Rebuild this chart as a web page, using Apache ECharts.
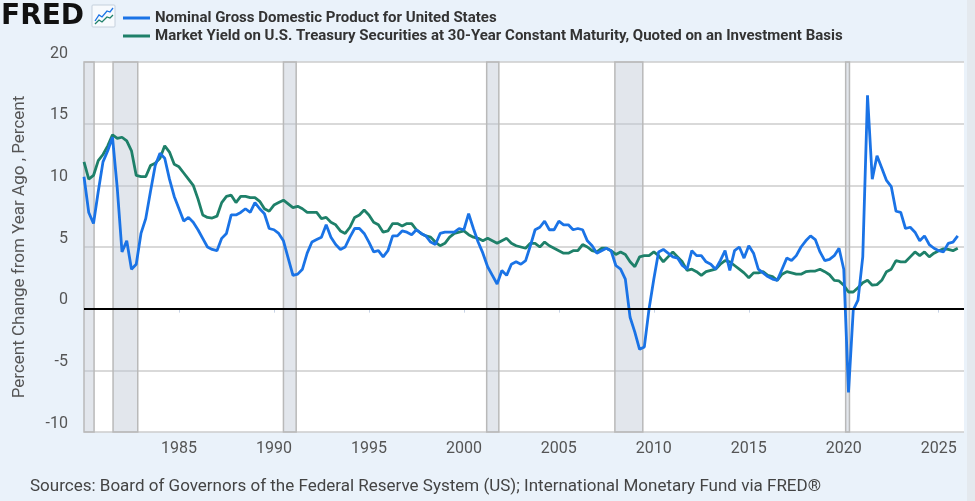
<!DOCTYPE html>
<html>
<head>
<meta charset="utf-8">
<script src="https://cdn.jsdelivr.net/npm/echarts@6/dist/echarts.min.js"></script>
<style>
html,body{margin:0;padding:0;background:#eaf2fa;}
#chart{width:975px;height:501px;}
</style>
</head>
<body>
<div id="chart"></div>
<script>
// Quarterly observations, first quarter = 1980 Q1
var startYear = 1980;
var gdpName = 'Nominal Gross Domestic Product for United States';
var yieldName = 'Market Yield on U.S. Treasury Securities at 30-Year Constant Maturity, Quoted on an Investment Basis';

var gdpYoY = [
 10.7, 7.8, 6.9, 9.5,   // 1980
 11.9, 12.8, 13.9, 9.8, // 1981
 4.6, 5.5, 3.2, 3.6,    // 1982
 6.1, 7.3, 9.5, 11.6,   // 1983
 12.6, 12.2, 10.5, 9.1, // 1984
 8.1, 7.1, 7.4, 7.0,    // 1985
 6.4, 5.7, 5.0, 4.8,    // 1986
 4.7, 5.7, 6.1, 7.6,    // 1987
 7.6, 7.8, 8.1, 7.8,    // 1988
 8.6, 8.1, 7.7, 6.5,    // 1989
 6.4, 6.1, 5.5, 4.1,    // 1990
 2.7, 2.8, 3.2, 4.5,    // 1991
 5.4, 5.6, 5.8, 6.8,    // 1992
 5.8, 5.2, 4.8, 5.0,    // 1993
 5.8, 6.5, 6.5, 6.1,    // 1994
 5.4, 4.6, 4.7, 4.2,    // 1995
 4.7, 5.9, 5.9, 6.3,    // 1996
 6.2, 6.0, 6.4, 6.1,    // 1997
 5.9, 5.4, 5.2, 6.1,    // 1998
 6.2, 6.2, 6.2, 6.5,    // 1999
 6.4, 7.7, 6.5, 5.4,    // 2000
 4.5, 3.4, 2.7, 2.0,    // 2001
 3.1, 2.7, 3.6, 3.8,    // 2002
 3.6, 3.9, 5.1, 6.4,    // 2003
 6.6, 7.1, 6.4, 6.4,    // 2004
 7.1, 6.8, 6.8, 6.4,    // 2005
 6.5, 6.4, 5.5, 5.1,    // 2006
 4.5, 4.7, 4.9, 4.7,    // 2007
 3.5, 3.2, 2.4, -0.7,   // 2008
 -1.9, -3.3, -3.1, 0.0, // 2009
 2.4, 4.6, 4.8, 4.5,    // 2010
 4.2, 4.1, 3.5, 3.2,    // 2011
 4.7, 4.3, 4.3, 3.8,    // 2012
 3.6, 3.2, 3.9, 4.7,    // 2013
 3.1, 4.7, 5.0, 4.1,    // 2014
 5.1, 4.5, 3.2, 2.9,    // 2015
 2.6, 2.4, 2.3, 3.2,    // 2016
 4.1, 3.9, 4.3, 5.0,    // 2017
 5.5, 5.9, 5.6, 4.6,    // 2018
 3.9, 4.0, 4.3, 4.9,    // 2019
 3.2, -6.8, -0.1, 0.7,  // 2020
 4.2, 17.3, 10.5, 12.4, // 2021
 11.4, 10.4, 9.9, 7.9,  // 2022
 7.8, 6.5, 6.6, 6.2,    // 2023
 5.5, 5.9, 5.2, 4.9,    // 2024
 4.7, 4.6, 5.3, 5.4,    // 2025
 5.9                    // 2026
];

var yield30 = [
 11.9, 10.5, 10.8, 12.0,  // 1980
 12.5, 13.2, 14.1, 13.8,  // 1981
 13.9, 13.6, 12.8, 10.8,  // 1982
 10.7, 10.7, 11.6, 11.8,  // 1983
 12.2, 13.2, 12.7, 11.7,  // 1984
 11.5, 11.0, 10.5, 10.0,  // 1985
 8.9, 7.6, 7.4, 7.35,     // 1986
 7.5, 8.6, 9.1, 9.2,      // 1987
 8.6, 9.1, 9.1, 9.0,      // 1988
 9.0, 8.7, 8.1, 7.9,      // 1989
 8.4, 8.6, 8.8, 8.5,      // 1990
 8.2, 8.3, 8.1, 7.8,      // 1991
 7.8, 7.8, 7.3, 7.4,      // 1992
 7.0, 6.8, 6.3, 6.1,      // 1993
 6.6, 7.4, 7.6, 8.0,      // 1994
 7.6, 7.0, 6.8, 6.2,      // 1995
 6.3, 6.9, 6.9, 6.7,      // 1996
 6.9, 6.9, 6.4, 6.1,      // 1997
 5.9, 5.8, 5.4, 5.1,      // 1998
 5.3, 5.8, 6.1, 6.2,      // 1999
 6.3, 6.0, 5.8, 5.7,      // 2000
 5.5, 5.7, 5.5, 5.3,      // 2001
 5.5, 5.7, 5.3, 5.1,      // 2002
 5.0, 4.9, 5.3, 5.3,      // 2003
 5.0, 5.4, 5.1, 4.9,      // 2004
 4.7, 4.5, 4.5, 4.7,      // 2005
 4.7, 5.2, 5.0, 4.7,      // 2006
 4.6, 4.9, 4.9, 4.7,      // 2007
 4.4, 4.6, 4.4, 3.8,      // 2008
 3.4, 4.2, 4.3, 4.3,      // 2009
 4.6, 4.3, 3.8, 4.2,      // 2010
 4.6, 4.2, 3.8, 3.1,      // 2011
 3.2, 3.0, 2.7, 3.0,      // 2012
 3.1, 3.2, 3.6, 3.9,      // 2013
 3.8, 3.5, 3.2, 2.9,      // 2014
 2.5, 2.9, 2.9, 3.0,      // 2015
 2.7, 2.6, 2.3, 2.8,      // 2016
 3.0, 2.9, 2.8, 2.8,      // 2017
 3.0, 3.05, 3.05, 3.2,    // 2018
 3.0, 2.75, 2.3, 2.25,    // 2019
 1.9, 1.35, 1.35, 1.7,    // 2020
 2.1, 2.3, 1.9, 1.95,     // 2021
 2.3, 3.0, 3.2, 3.9,      // 2022
 3.8, 3.8, 4.2, 4.6,      // 2023
 4.3, 4.6, 4.2, 4.5,      // 2024
 4.7, 4.85, 4.8, 4.7,     // 2025
 4.9                      // 2026
];

// Recession periods (decimal years)
var recessions = [
 [1980.0, 1980.53],
 [1981.53, 1982.83],
 [1990.5, 1991.17],
 [2001.2, 2001.84],
 [2007.95, 2009.42],
 [2020.1, 2020.3]
];

var yearTicks = [1985, 1990, 1995, 2000, 2005, 2010, 2015, 2020, 2025];

function toPairs(arr) {
  return arr.map(function (v, i) { return [startYear + i / 4, v]; });
}

var chart = echarts.init(document.getElementById('chart'), null, {renderer: 'canvas'});
var font = 'Roboto, "Open Sans", sans-serif';

var option = {
  backgroundColor: '#eaf2fa',
  animation: false,
  textStyle: {fontFamily: font},
  grid: {
    left: 84, top: 62, right: 11, bottom: 69,
    show: true, backgroundColor: '#ffffff', borderWidth: 0
  },
  legend: {
    left: 123, top: 9, orient: 'vertical',
    itemWidth: 27, itemHeight: 3, itemGap: 0, icon: 'rect', padding: 0,
    textStyle: {fontFamily: font, fontSize: 15, fontWeight: 'bold', color: '#333', lineHeight: 18},
    data: [gdpName, yieldName]
  },
  xAxis: {
    type: 'value', min: 1980, max: 2026.33, interval: 5,
    axisLine: {show: false},
    splitLine: {show: false},
    axisTick: {show: true, length: 4, lineStyle: {color: '#c7d3e6', width: 1}, customValues: yearTicks},
    axisLabel: {
      customValues: yearTicks,
      fontFamily: font, fontSize: 16, color: '#555', margin: 9,
      formatter: function (v) { return String(Math.round(v)); }
    }
  },
  yAxis: {
    type: 'value', min: -10, max: 20, interval: 5,
    axisLine: {show: false}, axisTick: {show: false},
    splitLine: {lineStyle: {color: '#cccccc', width: 1.5}},
    axisLabel: {fontFamily: font, fontSize: 16, color: '#555', margin: 16, verticalAlign: 'bottom', lineHeight: 17}
  },
  series: [
    {
      name: gdpName, type: 'line', data: toPairs(gdpYoY),
      showSymbol: false, symbol: 'none',
      lineStyle: {color: '#1a73e6', width: 2.8},
      itemStyle: {color: '#1a73e6'},
      z: 4,
      markArea: {
        silent: true,
        itemStyle: {color: 'rgba(190,200,212,0.45)', borderColor: '#b9b9b9', borderWidth: 1.5},
        data: recessions.map(function (r) { return [{xAxis: r[0]}, {xAxis: r[1]}]; })
      },
      markLine: {
        silent: true, symbol: 'none', label: {show: false},
        lineStyle: {color: '#000', width: 2, type: 'solid'},
        data: [{yAxis: 0}]
      }
    },
    {
      name: yieldName, type: 'line', data: toPairs(yield30),
      showSymbol: false, symbol: 'none',
      lineStyle: {color: '#1e8069', width: 2.8},
      itemStyle: {color: '#1e8069'},
      z: 3
    }
  ],
  graphic: [
    {type: 'rect', shape: {x: 967, y: 0, width: 8, height: 501}, style: {fill: '#e4e9ee'}, silent: true},
    {type: 'text', x: 1, y: 3, style: {text: 'FRED', font: 'bold 28px "DejaVu Sans"', fill: '#111'}},
    {type: 'rect', shape: {x: 92, y: 5, width: 23, height: 22, r: 1}, style: {fill: '#f7fafd', stroke: '#c5d0dc', lineWidth: 1}},
    {type: 'polyline', shape: {points: [[95, 21], [99, 15], [102, 17], [107, 11], [110, 12], [113, 8]]}, style: {stroke: '#1a73e6', lineWidth: 1.3, fill: null}},
    {type: 'polyline', shape: {points: [[95, 24], [99, 20], [102, 22], [107, 17], [110, 18], [113, 15]]}, style: {stroke: '#1e8069', lineWidth: 1.3, fill: null}},
    {type: 'text', x: 20, y: 247, rotation: Math.PI / 2,
     style: {text: 'Percent Change from Year Ago , Percent', fontFamily: font, fontSize: 17, fill: '#555', textAlign: 'center', textVerticalAlign: 'middle'}},
    {type: 'text', x: 30, y: 487,
     style: {text: 'Sources: Board of Governors of the Federal Reserve System (US); International Monetary Fund via FRED\u00ae', fontFamily: font, fontSize: 17, fill: '#444', textVerticalAlign: 'middle'}}
  ]
};
chart.setOption(option);
</script>
</body>
</html>
